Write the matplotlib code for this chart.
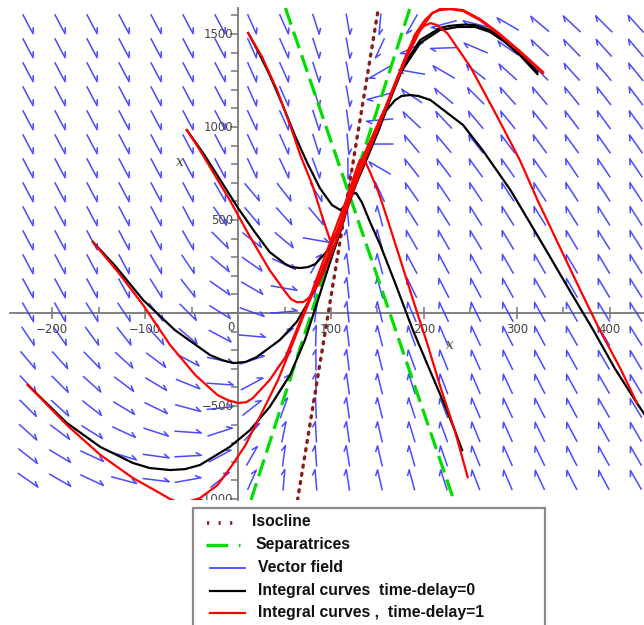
import numpy as np
import matplotlib
matplotlib.use('Agg')
import matplotlib.pyplot as plt
from matplotlib.collections import LineCollection
from matplotlib.lines import Line2D
from matplotlib.patches import Rectangle

# %% data
# direction field grid
field_x = np.linspace(-226, 428, 20)
field_y = np.linspace(1554, -898, 20)
# screen angle (deg) of every arrow, rows from top to bottom
field_angle = [
    [-62, -62, -62, -62, -62, -62, -62, -66, -66, -72, -80, 265, 240, 195, 166, 150, 140, 137, 135, 132],
    [-62, -62, -62, -62, -62, -62, -62, -66, -66, -72, -80, 245, 205, 182, 157, 145, 137, 134, 132, 130],
    [-62, -62, -62, -62, -62, -62, -62, -66, -66, -72, -80, 210, 170, 150, 142, 138, 134, 132, 130, 129],
    [-62, -62, -62, -62, -62, -62, -62, -66, -66, -72, -80, 195, 146, 140, 135, 132, 130, 129, 128, 127],
    [-62, -62, -62, -62, -62, -62, -62, -65, -66, -72, -82, 185, 137, 133, 130, 129, 128, 127, 126, 126],
    [-62, -62, -62, -62, -62, -62, -62, -65, -66, -72, -85, 180, 130, 130, 128, 127, 126, 126, 125, 125],
    [-62, -62, -62, -62, -62, -62, -62, -65, -65, -70, -90, 150, 128, 127, 126, 125, 125, 124, 124, 124],
    [-62, -62, -62, -62, -62, -62, -60, -50, -52, -58, -100, 115, 125, 124, 124, 123, 123, 123, 123, 123],
    [-62, -62, -62, -62, -62, -62, -55, -50, -48, -50, 95, 105, 122, 122, 122, 122, 122, 122, 122, 122],
    [-62, -62, -62, -62, -62, -60, -45, -38, -40, -10, 97, 105, 120, 120, 121, 121, 121, 121, 122, 122],
    [-62, -62, -62, -62, -60, -56, -40, -35, -25, 60, 97, 105, 118, 118, 119, 120, 120, 121, 121, 122],
    [-61, -61, -61, -61, -58, -52, -35, -30, -10, 80, 96, 105, 116, 117, 118, 119, 120, 120, 121, 122],
    [-60, -60, -58, -56, -52, -45, -32, -20, 5, 82, 96, 104, 113, 115, 116, 118, 119, 120, 121, 122],
    [-56, -55, -54, -52, -48, -40, -28, -5, 40, 88, 97, 104, 110, 113, 115, 117, 118, 120, 121, 122],
    [-50, -48, -46, -42, -37, -28, -12, 18, 50, 90, 97, 104, 110, 112, 114, 116, 118, 119, 120, 121],
    [-47, -45, -42, -37, -31, -22, -4, 28, 58, 92, 98, 104, 108, 111, 113, 115, 117, 119, 120, 121],
    [-45, -42, -38, -31, -26, -15, 6, 38, 70, 92, 98, 104, 108, 111, 113, 115, 117, 118, 120, 121],
    [-42, -37, -32, -25, -18, -4, 18, 48, 78, 93, 98, 103, 107, 110, 112, 114, 116, 118, 119, 120],
    [-38, -31, -25, -17, -8, 3, 28, 60, 82, 94, 99, 103, 106, 109, 112, 114, 116, 117, 119, 120],
    [-35, -30, -25, -15, -7, 10, 38, 66, 85, 95, 99, 103, 105, 108, 111, 113, 115, 117, 118, 120],
]

# isocline and separatrices (end points)
iso_x = [64, 151]
iso_y = [-1005, 1640]
sep1_x = [14, 185]
sep1_y = [-1005, 1640]
sep2_x = [51, 232]
sep2_y = [1640, -1005]

# integral curves, time-delay = 0
k1_x = [-226, -184, -148, -113, -95, -73, -57, -41, -9, 13, 34, 56, 72, 86, 99, 110, 117, 126, 137, 151, 163, 176, 196, 217, 226, 236, 245, 255, 271, 287, 303, 322]
k1_y = [-387, -591, -720, -806, -833, -844, -839, -817, -720, -629, -505, -333, -145, 70, 274, 436, 570, 699, 833, 995, 1156, 1317, 1468, 1532, 1543, 1548, 1551, 1548, 1521, 1468, 1398, 1296]
k2_x = [-156, -132, -102, -68, -30, -17, -5, 8, 20, 45, 63, 77, 90, 102, 112, 118, 127, 138, 151, 163, 176, 196, 217, 236, 255, 271, 287, 303, 322]
k2_y = [382, 253, 70, -91, -226, -253, -269, -263, -237, -145, -48, 70, 204, 339, 473, 570, 694, 823, 978, 1140, 1301, 1452, 1521, 1538, 1538, 1511, 1457, 1387, 1285]
k3_x = [-55, -36, -19, 0, 18, 34, 51, 58, 67, 75, 83, 97, 108, 116, 126, 137, 147, 158, 169, 176, 185, 194, 207, 242, 263, 293, 325, 352, 382, 405, 429, 437]
k3_y = [984, 849, 715, 565, 436, 328, 263, 247, 242, 247, 263, 339, 446, 554, 688, 823, 957, 1081, 1145, 1167, 1172, 1167, 1145, 1011, 876, 661, 392, 161, -91, -296, -484, -543]
k4_x = [11, 22, 34, 48, 61, 74, 88, 101, 110, 116, 122, 127, 133, 142, 153, 169, 188, 204, 220, 233, 241]
k4_y = [1505, 1403, 1280, 1118, 957, 812, 672, 581, 554, 581, 640, 645, 597, 489, 366, 161, -91, -280, -468, -629, -737]

# integral curves, time-delay = 1
r1_x = [-226, -184, -148, -113, -84, -73, -62, -52, -41, -22, -7, 8, 26, 43, 59, 72, 86, 99, 110, 118, 128, 140, 153, 167, 180, 196, 209, 217, 228, 242, 260, 279, 303, 328]
r1_y = [-387, -602, -763, -887, -968, -1000, -1020, -1011, -995, -925, -823, -710, -532, -360, -161, 5, 177, 339, 489, 608, 731, 876, 1027, 1199, 1360, 1521, 1613, 1629, 1634, 1624, 1575, 1505, 1403, 1290]
r2_x = [-156, -129, -102, -73, -46, -22, -11, 0, 9, 16, 34, 51, 63, 77, 90, 102, 113, 123, 133, 145, 158, 171, 183, 194, 200, 207, 214, 225, 250, 279, 303, 322, 346, 368, 389, 411, 429]
r2_y = [382, 220, 43, -172, -333, -441, -468, -484, -479, -457, -360, -237, -91, 81, 258, 419, 565, 688, 823, 957, 1102, 1263, 1414, 1511, 1543, 1559, 1548, 1505, 1323, 1054, 823, 608, 355, 124, -91, -296, -484]
r3_x = [-55, -41, -25, -9, 13, 34, 51, 57, 63, 70, 76, 86, 99, 110, 118, 127, 138, 150, 163, 176, 190, 201, 209, 217, 228, 242, 260, 279, 303, 328]
r3_y = [984, 876, 742, 608, 409, 231, 113, 75, 59, 59, 81, 151, 296, 446, 575, 699, 839, 984, 1156, 1317, 1495, 1575, 1613, 1634, 1636, 1629, 1581, 1511, 1409, 1296]
r4_x = [11, 26, 42, 56, 67, 80, 90, 99, 107, 114, 120, 127, 131, 136, 142, 151, 161, 174, 190, 204, 217, 233, 247]
r4_y = [1505, 1376, 1199, 1011, 849, 688, 527, 392, 436, 543, 661, 769, 823, 823, 758, 651, 500, 296, 43, -172, -387, -629, -882]

xtick_vals = [-200, -100, 100, 200, 300, 400]
ytick_vals = [-1000, -500, 500, 1000, 1500]

legend_labels = ['Isocline', 'Separatrices', 'Vector field',
                 'Integral curves  time-delay=0', 'Integral curves ,  time-delay=1']

# %% figure
W, H = 644, 625
fig = plt.figure(figsize=(W / 100, H / 100), dpi=100)
ax = fig.add_axes([10 / W, 125 / H, 634 / W, 492 / H])
ax.set_xlim(-245.2, 436.6)
ax.set_ylim(-1005, 1640)

# pixels per data unit
sx = 634 / (436.6 + 245.2)
sy = 492 / (1640 + 1005)

# vector field: one stroke with a single barb on its left side
segs = []
ang = np.radians(np.array(field_angle, dtype=float))
for j, yc in enumerate(field_y):
    for i, xc in enumerate(field_x):
        a = ang[j, i]
        c, s = np.cos(a), np.sin(a)
        L = 1.0 / np.sqrt((c / 27.0) ** 2 + (s / 21.0) ** 2)
        tail = (xc - c * L / 2 / sx, yc - s * L / 2 / sy)
        tip = (xc + c * L / 2 / sx, yc + s * L / 2 / sy)
        ba = np.radians(30)
        bx = -c * np.cos(ba) - s * np.sin(ba)
        by = -s * np.cos(ba) + c * np.sin(ba)
        barb = (tip[0] + 6.5 * bx / sx, tip[1] + 6.5 * by / sy)
        segs.append([tail, tip, barb])
ax.add_collection(LineCollection(segs, colors='#3636ff', linewidths=1.1,
                                 alpha=0.9, zorder=1))

# isocline and separatrices
ax.plot(iso_x, iso_y, color='#8b1a1a', lw=2.4, ls=(0, (0.6, 1.9)),
        dash_capstyle='round', zorder=2)
ax.plot(sep1_x, sep1_y, color='#00dd00', lw=2.3, ls=(0, (5.5, 2.3)), zorder=2)
ax.plot(sep2_x, sep2_y, color='#00dd00', lw=2.3, ls=(0, (5.5, 2.3)), zorder=2)

# integral curves
for cx, cy in [(k1_x, k1_y), (k2_x, k2_y), (k3_x, k3_y), (k4_x, k4_y)]:
    ax.plot(cx, cy, color='black', lw=1.6, zorder=3, solid_joinstyle='round')
for cx, cy in [(r1_x, r1_y), (r2_x, r2_y), (r3_x, r3_y), (r4_x, r4_y)]:
    ax.plot(cx, cy, color='#ff0000', lw=1.6, zorder=4, solid_joinstyle='round')

# axes through the origin, Maple style
for side in ['top', 'right']:
    ax.spines[side].set_visible(False)
ax.spines['left'].set_position(('data', 0))
ax.spines['bottom'].set_position(('data', 0))
for side in ['left', 'bottom']:
    ax.spines[side].set_color('#777777')
    ax.spines[side].set_linewidth(1.3)
    ax.spines[side].set_zorder(0.5)
ax.set_xticks(xtick_vals)
ax.set_xticks(np.arange(-200, 401, 50), minor=True)
ax.set_yticks(ytick_vals)
ax.set_yticks(np.arange(-1000, 1601, 100), minor=True)
ax.set_xticklabels([])
ax.set_yticklabels([])
ax.tick_params(axis='x', which='major', direction='inout', length=8, color='#777777', width=1.1)
ax.tick_params(axis='x', which='minor', direction='in', length=4, color='#777777', width=1.1)
ax.tick_params(axis='y', which='major', direction='out', length=6, color='#777777', width=1.1)
ax.tick_params(axis='y', which='minor', direction='out', length=5, color='#777777', width=1.1)

tick_font = dict(fontsize=8.5, color='#444444', family='DejaVu Sans')
for v in xtick_vals:
    ax.text(v, -91, str(v).replace('-', '\u2212'), ha='center', va='center', **tick_font)
for v in ytick_vals:
    ax.text(-5, v, str(v).replace('-', '\u2212'), ha='right', va='center',
            clip_on=True, **tick_font)
ax.text(-4, -80, '0', ha='right', va='center', **tick_font)
ax.text(-62, 812, 'x', ha='center', va='center', fontsize=10, style='italic',
        family='DejaVu Serif', color='#444444')
ax.text(228, -172, 'x', ha='center', va='center', fontsize=10, style='italic',
        family='DejaVu Serif', color='#444444')


# %% legend box (drawn in figure pixels)
def fp(px, py):
    return px / W, 1 - py / H


x0, y0 = fp(193, 640)
x1, y1 = fp(545, 508)
fig.patches.append(Rectangle((x0, y0), x1 - x0, y1 - y0, transform=fig.transFigure,
                             fill=False, edgecolor='#8a8a8a', lw=1.6))

rows_py = [523, 545, 568, 591, 613]
text_px = [252, 256, 258, 258, 258]
handles = [
    dict(xs=(207, 240), color='#8b1a1a', lw=2.6, ls=(0, (0.6, 2.6))),
    dict(xs=(206, 240), color='#00dd00', lw=2.4, ls=(0, (6.5, 3.2, 1.2, 3.2))),
    dict(xs=(210, 245), color='#3636ff', lw=1.2, ls='-'),
    dict(xs=(210, 245), color='black', lw=1.6, ls='-'),
    dict(xs=(210, 245), color='#ff0000', lw=1.6, ls='-'),
]
for py, tpx, h, lab in zip(rows_py, text_px, handles, legend_labels):
    a = fp(h['xs'][0], py)
    b = fp(h['xs'][1], py)
    fig.lines.append(Line2D([a[0], b[0]], [a[1], b[1]], transform=fig.transFigure,
                            color=h['color'], lw=h['lw'], ls=h['ls']))
    tx, ty = fp(tpx, py - 1)
    fig.text(tx, ty, lab, ha='left', va='center', fontsize=11.3, fontweight='bold',
             family='Liberation Sans', color='#111111')

fig.savefig('out.png', dpi=100)
